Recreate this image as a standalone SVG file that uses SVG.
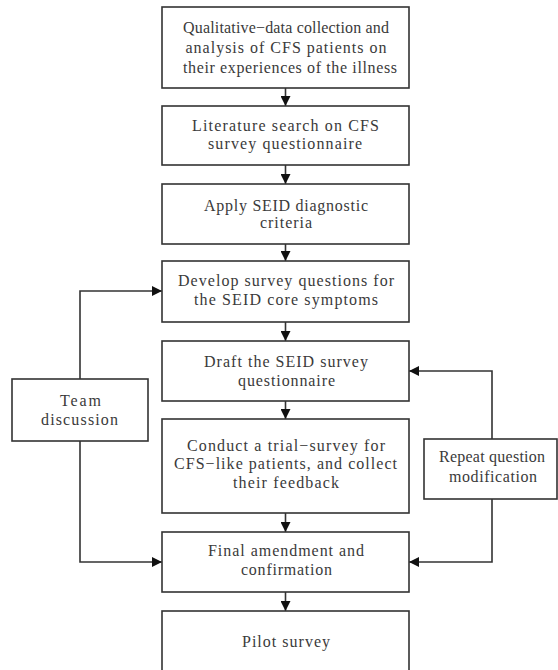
<svg xmlns="http://www.w3.org/2000/svg" width="558" height="670" viewBox="0 0 558 670">
<style>
  .box { fill: #fff; stroke: #333; stroke-width: 1.6; }
  .t { font-family: "Liberation Serif", "DejaVu Serif", serif; font-size: 16px; fill: #3a3a3a; text-anchor: middle; }
  .c { fill: none; stroke: #333; stroke-width: 1.6; marker-end: url(#ah); }
</style>
<defs>
  <marker id="ah" viewBox="0 0 10 10" refX="10" refY="5" markerWidth="10" markerHeight="10" markerUnits="userSpaceOnUse" orient="auto">
    <path d="M0,0 L10,5 L0,10 Z" fill="#111"/>
  </marker>
</defs>
<rect width="558" height="670" fill="#fff"/>
<g id="connectors">
  <path class="c" d="M285.5,88 V106"/>
  <path class="c" d="M285.5,165 V184"/>
  <path class="c" d="M285.5,244 V261"/>
  <path class="c" d="M285.5,322 V341"/>
  <path class="c" d="M285.5,401 V419"/>
  <path class="c" d="M285.5,513 V532"/>
  <path class="c" d="M285.5,592 V611"/>
  <path class="c" d="M80,379 V291 H162"/>
  <path class="c" d="M80,441 V562 H162"/>
  <path class="c" d="M492,439 V371 H409"/>
  <path class="c" d="M492,499 V562 H409"/>
</g>
<g id="n1">
  <rect class="box" x="162" y="7" width="247" height="81"/>
  <text class="t" x="286" y="33" textLength="206">Qualitative−data collection and</text>
  <text class="t" x="286" y="53" textLength="201">analysis of CFS patients on</text>
  <text class="t" x="290" y="73" textLength="214">their experiences of the illness</text>
</g>
<g id="n2">
  <rect class="box" x="162" y="106" width="247" height="59"/>
  <text class="t" x="285.5" y="131" textLength="187">Literature search on CFS</text>
  <text class="t" x="285" y="149" textLength="154">survey questionnaire</text>
</g>
<g id="n3">
  <rect class="box" x="162" y="184" width="247" height="60"/>
  <text class="t" x="286" y="211" textLength="164">Apply SEID diagnostic</text>
  <text class="t" x="286" y="228" textLength="52">criteria</text>
</g>
<g id="n4">
  <rect class="box" x="162" y="261" width="247" height="61"/>
  <text class="t" x="286" y="286" textLength="216">Develop survey questions for</text>
  <text class="t" x="286" y="305" textLength="184">the SEID core symptoms</text>
</g>
<g id="n5">
  <rect class="box" x="162" y="341" width="247" height="60"/>
  <text class="t" x="286" y="367" textLength="164">Draft the SEID survey</text>
  <text class="t" x="286.5" y="386" textLength="97">questionnaire</text>
</g>
<g id="n6">
  <rect class="box" x="162" y="419" width="247" height="94"/>
  <text class="t" x="286" y="451" textLength="198">Conduct a trial−survey for</text>
  <text class="t" x="285.5" y="469" textLength="223">CFS−like patients, and collect</text>
  <text class="t" x="286" y="488" textLength="106">their feedback</text>
</g>
<g id="n7">
  <rect class="box" x="162" y="532" width="247" height="60"/>
  <text class="t" x="286" y="556" textLength="156">Final amendment and</text>
  <text class="t" x="286.5" y="575" textLength="91">confirmation</text>
</g>
<g id="n8">
  <rect class="box" x="162" y="611" width="247" height="80"/>
  <text class="t" x="286" y="647" textLength="88">Pilot survey</text>
</g>
<g id="team">
  <rect class="box" x="12" y="379" width="136" height="62"/>
  <text class="t" x="80.5" y="406" textLength="41">Team</text>
  <text class="t" x="79.5" y="425" textLength="77">discussion</text>
</g>
<g id="repeat">
  <rect class="box" x="424" y="439" width="133" height="60"/>
  <text class="t" x="492" y="462" textLength="106">Repeat question</text>
  <text class="t" x="493" y="482" textLength="88">modification</text>
</g>
</svg>
